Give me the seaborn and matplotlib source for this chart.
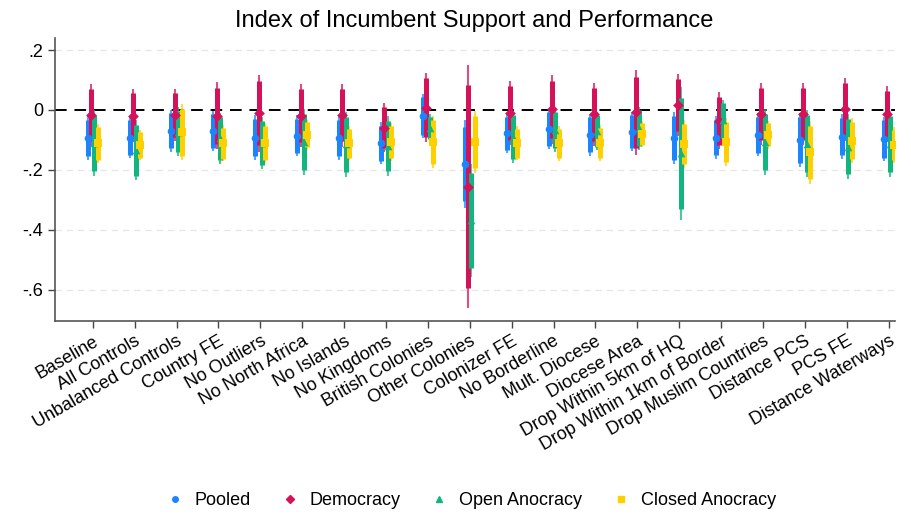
import numpy as np
import pandas as pd
import matplotlib
matplotlib.use("Agg")
import matplotlib.pyplot as plt
from matplotlib.lines import Line2D
import seaborn as sns

# Specifications (x axis)
categories = ["Baseline", "All Controls", "Unbalanced Controls", "Country FE",
              "No Outliers", "No North Africa", "No Islands", "No Kingdoms",
              "British Colonies", "Other Colonies", "Colonizer FE", "No Borderline",
              "Mult. Diocese", "Diocese Area", "Drop Within 5km of HQ",
              "Drop Within 1km of Border", "Drop Muslim Countries", "Distance PCS",
              "PCS FE", "Distance Waterways"]

# point estimates and 95% CI half-widths
pooled_est = [-0.094, -0.092, -0.069, -0.070, -0.092, -0.086, -0.094, -0.111, -0.020, -0.180,
              -0.078, -0.064, -0.083, -0.072, -0.094, -0.092, -0.083, -0.100, -0.089, -0.097]
pooled_half = [0.073, 0.070, 0.070, 0.066, 0.075, 0.068, 0.073, 0.070, 0.075, 0.148,
               0.065, 0.068, 0.070, 0.066, 0.088, 0.071, 0.072, 0.090, 0.074, 0.074]

democracy_est = [-0.017, -0.019, -0.017, -0.019, -0.011, -0.019, -0.017, -0.059, 0.008, -0.256,
                 -0.009, 0.002, -0.014, -0.008, 0.017, -0.036, -0.014, -0.013, 0.003, -0.013]
democracy_half = [0.104, 0.089, 0.087, 0.111, 0.128, 0.105, 0.105, 0.081, 0.116, 0.405,
                  0.107, 0.115, 0.105, 0.141, 0.103, 0.095, 0.103, 0.104, 0.105, 0.093]

open_est = [-0.110, -0.135, -0.072, -0.095, -0.110, -0.106, -0.115, -0.120, -0.060, -0.369,
            -0.090, -0.067, -0.070, -0.061, -0.145, -0.035, -0.106, -0.112, -0.122, -0.113]
open_half = [0.110, 0.100, 0.081, 0.085, 0.088, 0.111, 0.109, 0.100, 0.045, 0.189,
             0.087, 0.072, 0.064, 0.072, 0.222, 0.070, 0.111, 0.112, 0.108, 0.111]

closed_est = [-0.111, -0.117, -0.074, -0.111, -0.111, -0.083, -0.111, -0.106, -0.106, -0.106,
              -0.111, -0.111, -0.109, -0.081, -0.113, -0.106, -0.083, -0.142, -0.102, -0.117]
closed_half = [0.065, 0.050, 0.094, 0.061, 0.067, 0.050, 0.057, 0.064, 0.087, 0.104,
               0.057, 0.058, 0.060, 0.043, 0.080, 0.080, 0.046, 0.104, 0.074, 0.060]

series_names = ["Pooled", "Democracy", "Open Anocracy", "Closed Anocracy"]
colors = {"Pooled": "#1A85FF", "Democracy": "#D41159",
          "Open Anocracy": "#12B57F", "Closed Anocracy": "#FFD000"}
markers = {"Pooled": "o", "Democracy": "D", "Open Anocracy": "^", "Closed Anocracy": "s"}
offsets = {"Pooled": -0.12, "Democracy": -0.04, "Open Anocracy": 0.04, "Closed Anocracy": 0.12}

ests = [pooled_est, democracy_est, open_est, closed_est]
halves = [pooled_half, democracy_half, open_half, closed_half]

rows = []
for name, est, half in zip(series_names, ests, halves):
    for i, cat in enumerate(categories):
        rows.append({"spec": cat, "idx": i, "series": name, "est": est[i], "half95": half[i]})
df = pd.DataFrame(rows)
df["x"] = df["idx"] + df["series"].map(offsets)
df["half90"] = df["half95"] * 1.645 / 1.96

sns.set_style("white")
plt.rcParams["font.family"] = ["Liberation Sans", "DejaVu Sans"]
plt.rcParams["text.color"] = "black"
plt.rcParams["xtick.color"] = "black"
plt.rcParams["ytick.color"] = "black"

fig = plt.figure(figsize=(9.11, 5.16), dpi=100)
ax = fig.add_axes([0.0604, 0.378, 0.922, 0.548])

for g in [0.2, -0.2, -0.4, -0.6]:
    ax.axhline(g, color="#e6e6e6", lw=0.9, ls=(0, (5, 4)), zorder=0)
ax.axhline(0, color="black", lw=1.4, ls=(0, (6, 4)), zorder=1)

for name in series_names:
    d = df[df["series"] == name]
    c = colors[name]
    ax.vlines(d["x"], d["est"] - d["half95"], d["est"] + d["half95"], color=c, lw=1.5, alpha=0.75, zorder=2)
    ax.vlines(d["x"], d["est"] - d["half90"], d["est"] + d["half90"], color=c, lw=3.6, zorder=3)
    sns.scatterplot(data=d, x="x", y="est", color=c, marker=markers[name], s=30,
                    edgecolor=c, linewidth=0, ax=ax, zorder=4, legend=False)

ax.set_xlim(-0.9, 19.15)
ax.set_ylim(-0.705, 0.24)
ax.set_xticks(range(len(categories)))
ax.set_xticklabels(categories, rotation=30, ha="right", rotation_mode="anchor", fontsize=13)
ax.set_yticks([0.2, 0, -0.2, -0.4, -0.6])
ax.set_yticklabels([".2", "0", "-.2", "-.4", "-.6"], fontsize=13)
ax.tick_params(axis="both", length=5, width=1, color="#444444", direction="out", bottom=True, left=True)
ax.set_xlabel("")
ax.set_ylabel("")
for side in ["top", "right"]:
    ax.spines[side].set_visible(False)
for side in ["left", "bottom"]:
    ax.spines[side].set_color("#555555")
    ax.spines[side].set_linewidth(1.2)

fig.suptitle("Index of Incumbent Support and Performance", fontsize=17, x=0.52, y=0.98)

handles = [Line2D([], [], ls="none", marker=markers[n], color=colors[n], markersize=4) for n in series_names]
fig.legend(handles, series_names, loc="center", bbox_to_anchor=(0.517, 0.03), ncol=4,
           frameon=False, fontsize=13, columnspacing=1.65, handletextpad=0.6, handlelength=1.0)

fig.savefig("out.png", dpi=100)
